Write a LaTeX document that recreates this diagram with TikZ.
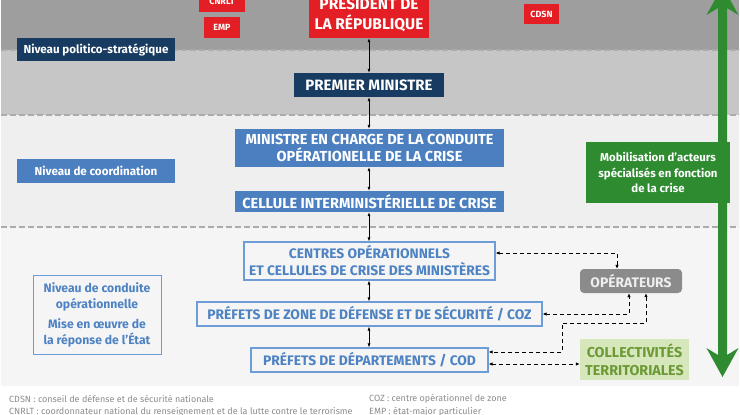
\documentclass[tikz,border=0pt]{standalone}
\usepackage{fontspec}
\setmainfont{Fira Sans}
\usetikzlibrary{arrows.meta}
\definecolor{bandA}{HTML}{9E9E9E}
\definecolor{bandB}{HTML}{C7C6C7}
\definecolor{bandC}{HTML}{EFEFEF}
\definecolor{bandD}{HTML}{F5F5F5}
\definecolor{sepcol}{HTML}{ABABAB}
\definecolor{rouge}{HTML}{E31E24}
\definecolor{navy}{HTML}{173B61}
\definecolor{bleu}{HTML}{4B7FC0}
\definecolor{bleutxt}{HTML}{4D82C3}
\definecolor{bleubord}{HTML}{6C9DD6}
\definecolor{vert}{HTML}{2E8B30}
\definecolor{foottxt}{HTML}{8C8C8C}
\definecolor{opfill}{HTML}{8B8B8B}
\definecolor{optxt}{HTML}{EEEEEE}
\definecolor{collfill}{HTML}{D7E7BC}
\definecolor{colltxt}{HTML}{6B9A35}
\tikzset{
  basebox/.style={inner sep=0pt, align=center},
  redbox/.style={basebox, fill=rouge, text=white},
  smallred/.style={redbox, font=\fontsize{9}{11}\selectfont\bfseries},
  navybox/.style={basebox, fill=navy, text=white},
  bluebox/.style={basebox, fill=bleu, text=white},
  outbox/.style={basebox, draw=bleubord, line width=1.2pt, fill=bandD, text=bleutxt},
  capsfont/.style={font=\fontsize{14.5}{17}\selectfont\bfseries},
  outfont/.style={font=\fontsize{13.8}{17}\selectfont\bfseries},
  labfont/.style={font=\fontsize{11.6}{15.5}\selectfont\bfseries},
  sepline/.style={draw=sepcol, line width=1.3pt, dash pattern=on 6pt off 3pt},
  biarrow/.style={draw=black, line width=0.7pt, {Latex[length=4pt,width=3pt]}-{Latex[length=4pt,width=3pt]}},
  dasharr/.style={draw=black, line width=0.9pt, dash pattern=on 4pt off 3pt, {Latex[length=4pt,width=3.5pt]}-{Latex[length=4pt,width=3.5pt]}},
  foot/.style={inner sep=0pt, anchor=west, text=foottxt, font=\fontsize{9}{10}\selectfont}
}
\begin{document}
\begin{tikzpicture}[x=1pt,y=-1pt]
\useasboundingbox (0,0) rectangle (740,415);
\clip (0,0) rectangle (740,415);
\fill[white] (0,0) rectangle (740,415);
% bands
\fill[bandA] (1,0) rectangle (739,50);
\fill[bandB] (1,50) rectangle (739,115);
\fill[bandC] (1,115) rectangle (739,227);
\fill[bandD] (1,227) rectangle (739,386);
\draw[sepline] (1,50) -- (739,50);
\draw[sepline] (1,115) -- (739,115);
\draw[sepline] (1,227) -- (739,227);
% green arrow
\fill[vert] (722.5,-14) -- (738.5,15) -- (727,8) -- (727,355) -- (738.5,348) -- (722.5,377) -- (706.5,348) -- (718,355) -- (718,8) -- (706.5,15) -- cycle;
% nodes
\node[smallred, minimum width=46pt, minimum height=21pt] (cnrlt) at (222,1.5) {CNRLT};
\node[smallred, minimum width=36pt, minimum height=21pt] (emp) at (222,27.5) {EMP};
\node[smallred, minimum width=35pt, minimum height=20pt] (cdsn) at (541.5,14) {CDSN};
\node[redbox, font=\fontsize{15.5}{20}\selectfont\bfseries, minimum width=120pt, minimum height=50pt] (pr) at (369,13) {PRÉSIDENT DE\\LA RÉPUBLIQUE};
\node[navybox, labfont, minimum width=158pt, minimum height=23pt] (npol) at (96,49.5) {Niveau politico-stratégique};
\node[navybox, font=\fontsize{15}{17}\selectfont\bfseries, minimum width=150pt, minimum height=24pt] (pm) at (369,85) {PREMIER MINISTRE};
\node[bluebox, capsfont, minimum width=269pt, minimum height=38pt] (min) at (369.5,148) {MINISTRE EN CHARGE DE LA CONDUITE\\OPÉRATIONELLE DE LA CRISE};
\node[bluebox, capsfont, minimum width=269pt, minimum height=21pt] (cic) at (369.5,201.5) {CELLULE INTERMINISTÉRIELLE DE CRISE};
\node[bluebox, labfont, minimum width=158pt, minimum height=24pt] (ncoord) at (96,171) {Niveau de coordination};
\node[basebox, fill=vert, text=white, font=\fontsize{11.4}{15.5}\selectfont\bfseries, minimum width=144pt, minimum height=61pt] (mob) at (658,172.5) {Mobilisation d’acteurs\\spécialisés en fonction\\de la crise};
\node[outbox, line width=1pt, font=\fontsize{12.2}{16}\selectfont\bfseries, minimum width=128pt, minimum height=79pt] (ncond) at (97,314.5) {Niveau de conduite\\opérationnelle\\[4pt]Mise en œuvre de\\la réponse de l’État};
\node[outbox, outfont, minimum width=251pt, minimum height=38pt] (centres) at (369.5,261) {CENTRES OPÉRATIONNELS\\ET CELLULES DE CRISE DES MINISTÈRES};
\node[outbox, outfont, minimum width=345pt, minimum height=24pt] (pzone) at (369.5,314) {PRÉFETS DE ZONE DE DÉFENSE ET DE SÉCURITÉ / COZ};
\node[outbox, outfont, minimum width=237pt, minimum height=24pt] (pdep) at (369.5,360) {PRÉFETS DE DÉPARTEMENTS / COD};
\node[basebox, fill=opfill, text=optxt, rounded corners=4pt, outfont, minimum width=102pt, minimum height=24pt] (oper) at (631,281) {OPÉRATEURS};
\node[basebox, fill=collfill, text=colltxt, font=\fontsize{14.3}{18}\selectfont\bfseries, minimum width=109pt, minimum height=41pt] (coll) at (634.5,359.5) {COLLECTIVITÉS\\TERRITORIALES};
% central arrows
\draw[biarrow] (pr.south) -- (pm.north);
\draw[biarrow] (pm.south) -- (min.north -| pm.south);
\draw[biarrow] (min.south -| pm.south) -- (cic.north -| pm.south);
\draw[biarrow] (cic.south -| pm.south) -- (centres.north -| pm.south);
\draw[biarrow] (centres.south -| pm.south) -- (pzone.north -| pm.south);
\draw[biarrow] (pzone.south -| pm.south) -- (pdep.north -| pm.south);
% dashed connectors
\coordinate (k1) at (562,323);
\coordinate (k2) at (562,352);
\draw[dasharr] ([yshift=8pt]centres.east) -| ([xshift=-14pt]oper.north);
\draw[dasharr] (pzone.east) -| ([xshift=-2pt]oper.south);
\draw[dasharr] ([xshift=15pt]oper.south) |- (k1) -- (k2) -- ([yshift=8pt]pdep.east);
\draw[dasharr] ([yshift=-4pt]pdep.east) -- ([yshift=-4pt]pdep.east -| coll.west);
% footnotes
\node[foot] (f1) at (9,399) {CDSN : conseil de défense et de sécurité nationale};
\node[foot] (f2) at (9,412) {CNRLT : coordonnateur national du renseignement et de la lutte contre le terrorisme};
\node[foot] (f3) at (369,399) {COZ : centre opérationnel de zone};
\node[foot] (f4) at (369,412) {EMP : état-major particulier};
\end{tikzpicture}
\end{document}
